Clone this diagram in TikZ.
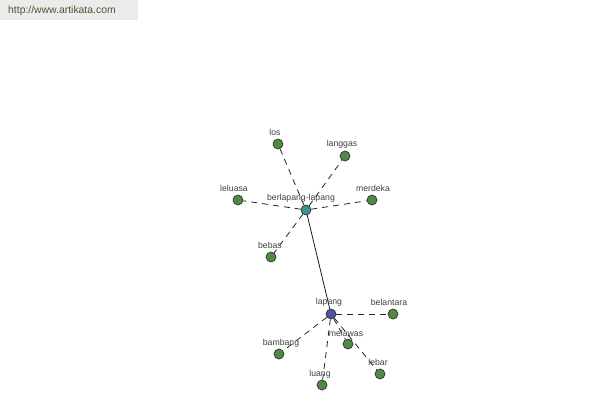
\documentclass[tikz,border=0pt]{standalone}
\usepackage{fontspec}
\setmainfont{Liberation Sans}
\definecolor{leaf}{HTML}{4F8A43}
\definecolor{hub}{HTML}{3F8E98}
\definecolor{root}{HTML}{4A54A0}
\definecolor{banner}{HTML}{EBEBEB}
\definecolor{bannertext}{HTML}{4A5630}
\definecolor{labeltext}{HTML}{404040}
\begin{document}
\begin{tikzpicture}[x=1pt,y=-1pt,
  dot/.style={circle,draw=black!80,line width=0.7pt,minimum size=10pt,inner sep=0pt},
  leafdot/.style={dot,fill=leaf},
  lbl/.style={font=\fontsize{8.7}{9}\selectfont,text=labeltext,inner sep=0pt},
  link/.style={draw=black!85,line width=0.8pt,dash pattern=on 6pt off 5pt},
  strong/.style={draw=black!90,line width=0.8pt}]
\useasboundingbox (0,0) rectangle (600,400);
\fill[banner] (0,0) rectangle (138,20);
\node[anchor=west,text=bannertext,font=\fontsize{10.4}{12}\selectfont,inner sep=0pt] (site) at (8,11) {http://www.artikata.com};
% nodes
\node[dot,fill=hub] (berl) at (306,210) {};
\node[dot,fill=root] (lapang) at (331,314) {};
\node[leafdot] (los) at (278,144) {};
\node[leafdot] (langgas) at (345,156) {};
\node[leafdot] (leluasa) at (238,200) {};
\node[leafdot] (merdeka) at (372,200) {};
\node[leafdot] (bebas) at (271,257) {};
\node[leafdot] (belantara) at (393,314) {};
\node[leafdot] (bambang) at (279,354) {};
\node[leafdot] (melawas) at (348,344) {};
\node[leafdot] (luang) at (322,385) {};
\node[leafdot] (lebar) at (380,374) {};
% edges
\draw[strong] (berl) -- (lapang);
\foreach \t in {los,langgas,leluasa,merdeka,bebas}
  \draw[link] (berl) -- (\t);
\foreach \t in {belantara,bambang,melawas,luang,lebar}
  \draw[link] (lapang) -- (\t);
% labels
\node[lbl] (tberl) at (301,198) {berlapang-lapang};
\node[lbl] (tlapang) at (329,302) {lapang};
\node[lbl] (tlos) at (275,132) {los};
\node[lbl] (tlanggas) at (342,144) {langgas};
\node[lbl] (tleluasa) at (234,188) {leluasa};
\node[lbl] (tmerdeka) at (373,188) {merdeka};
\node[lbl] (tbebas) at (270,245) {bebas};
\node[lbl] (tbelantara) at (389,302) {belantara};
\node[lbl] (tbambang) at (281,343) {bambang};
\node[lbl] (tmelawas) at (346,333) {melawas};
\node[lbl] (tluang) at (320,374) {luang};
\node[lbl] (tlebar) at (378,362) {lebar};
\end{tikzpicture}
\end{document}
